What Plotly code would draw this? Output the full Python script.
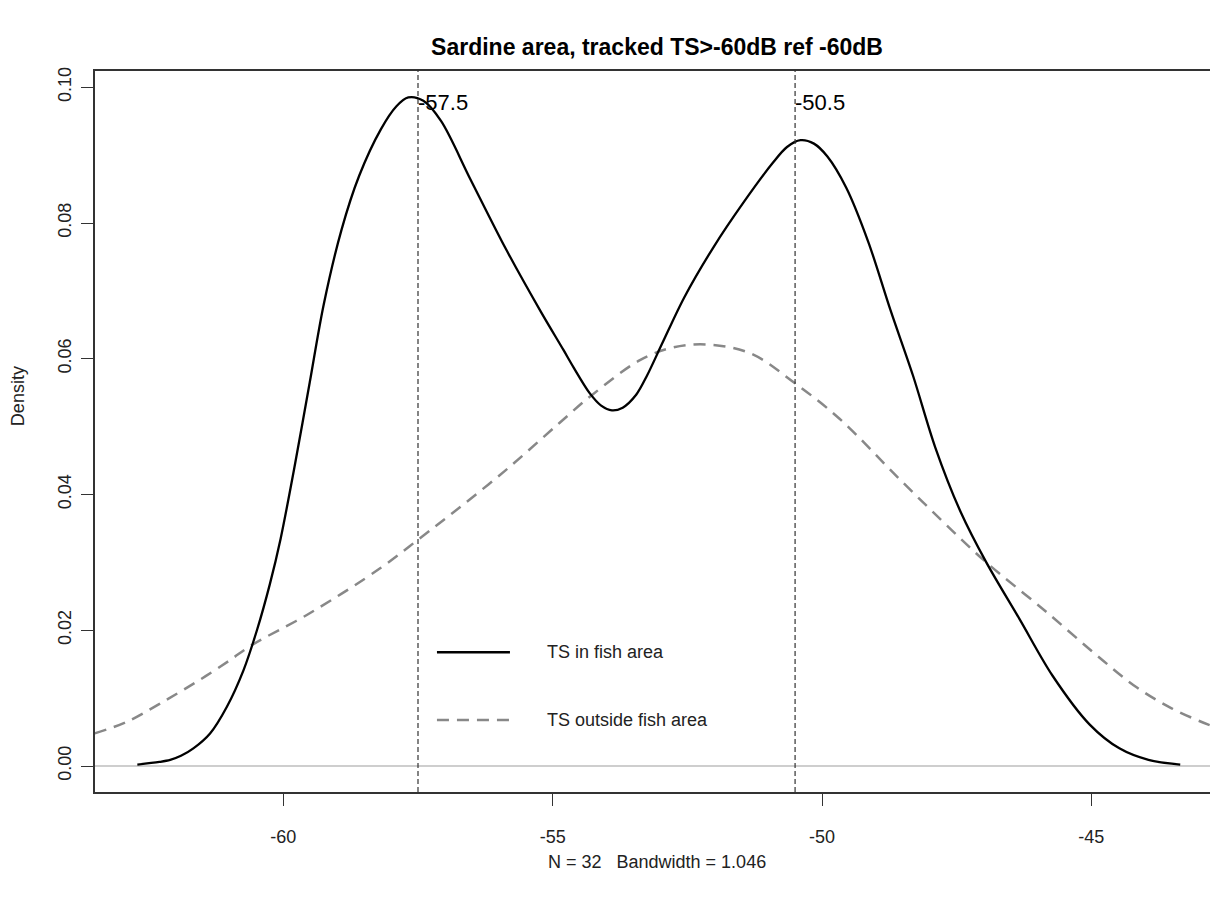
import plotly.graph_objects as go

# ---- data ----
fish_x = [-62.71, -62.30, -62.10, -61.90, -61.67, -61.36, -61.05, -60.74, -60.49, -60.25,
          -60.05, -59.78, -59.51, -59.25, -58.92, -58.59, -58.19, -57.90, -57.68, -57.40,
          -57.07, -56.53, -55.87, -55.21, -54.80, -54.61, -54.31, -54.10, -53.90, -53.70,
          -53.45, -53.25, -52.97, -52.56, -52.01, -51.46, -50.92, -50.65, -50.40, -50.15,
          -49.90, -49.55, -49.14, -48.73, -48.31, -47.90, -47.43, -46.95, -46.33, -45.72,
          -45.03, -44.48, -43.94, -43.35]
fish_y = [0.0002, 0.0006, 0.0009, 0.0015, 0.0026, 0.0048, 0.0087, 0.0141, 0.0200, 0.0268,
          0.0335, 0.0446, 0.0565, 0.0680, 0.0790, 0.0870, 0.0938, 0.0972, 0.0985, 0.0980,
          0.0950, 0.0865, 0.0762, 0.0668, 0.0613, 0.0587, 0.0549, 0.0531, 0.0524, 0.0528,
          0.0547, 0.0575, 0.0622, 0.0690, 0.0765, 0.0830, 0.0888, 0.0912, 0.0922, 0.0917,
          0.0898, 0.0852, 0.0772, 0.0672, 0.0575, 0.0470, 0.0375, 0.0300, 0.0216, 0.0133,
          0.0061, 0.0026, 0.0009, 0.0002]

out_x = [-63.50, -62.91, -62.29, -61.61, -60.99, -60.59, -59.51, -58.19, -57.49, -56.87,
         -55.87, -54.88, -54.28, -53.38, -52.80, -52.15, -51.33, -50.52, -49.68, -48.59,
         -47.56, -46.95, -45.85, -44.78, -44.16, -43.51, -42.80, -42.65]
out_y = [0.0048, 0.0065, 0.0092, 0.0124, 0.0156, 0.0178, 0.0225, 0.0292, 0.0334, 0.0372,
         0.0436, 0.0505, 0.0546, 0.0598, 0.0616, 0.0621, 0.0608, 0.0565, 0.0512, 0.0425,
         0.0345, 0.0300, 0.0228, 0.0155, 0.0116, 0.0085, 0.0060, 0.0056]

mode_x = [-57.5, -50.5]
mode_labels = ["-57.5", "-50.5"]
mode_label_y = 0.0978

x_ticks = [-60, -55, -50, -45]
x_ticklabels = ["-60", "-55", "-50", "-45"]
y_ticks = [0.00, 0.02, 0.04, 0.06, 0.08, 0.10]
y_ticklabels = ["0.00", "0.02", "0.04", "0.06", "0.08", "0.10"]

legend_labels = ["TS in fish area", "TS outside fish area"]
title_text = "Sardine area, tracked TS>-60dB ref -60dB"
x_title = "N = 32   Bandwidth = 1.046"
y_title = "Density"

FONT = "Arial, Liberation Sans, sans-serif"
AX = "#333333"

fig = go.Figure()
fig.add_trace(go.Scatter(x=out_x, y=out_y, mode="lines",
                         line=dict(color="#888888", width=2.5, dash="12px,8px", shape="spline", smoothing=1.0),
                         hoverinfo="skip", showlegend=False))
fig.add_trace(go.Scatter(x=fish_x, y=fish_y, mode="lines",
                         line=dict(color="black", width=2.3, shape="spline", smoothing=0.9),
                         hoverinfo="skip", showlegend=False))

shapes = []
# zero line
shapes.append(dict(type="line", xref="paper", x0=0, x1=1, yref="y", y0=0, y1=0,
                   line=dict(color="#bebebe", width=1.5), layer="below"))
# mode lines
for mx in mode_x:
    shapes.append(dict(type="line", xref="x", x0=mx, x1=mx, yref="paper", y0=0, y1=1,
                       line=dict(color="#333333", width=1.2, dash="5px,3px")))

# manual legend (paper coords)
leg_x0, leg_x1, leg_tx = 0.3045, 0.3695, 0.4007
leg_y = [0.194, 0.0999]
shapes.append(dict(type="line", xref="paper", yref="paper", x0=leg_x0, x1=leg_x1,
                   y0=leg_y[0], y1=leg_y[0], line=dict(color="black", width=2.5)))
shapes.append(dict(type="line", xref="paper", yref="paper", x0=leg_x0, x1=leg_x1,
                   y0=leg_y[1], y1=leg_y[1], line=dict(color="#888888", width=2.5, dash="12px,8px")))

annotations = []
for mx, lab in zip(mode_x, mode_labels):
    annotations.append(dict(x=mx, y=mode_label_y, xref="x", yref="y", text=lab,
                            showarrow=False, xanchor="left", yanchor="middle", xshift=-2,
                            font=dict(family=FONT, size=22, color="black")))
for ly, lab in zip(leg_y, legend_labels):
    annotations.append(dict(x=leg_tx, y=ly, xref="paper", yref="paper", text=lab,
                            showarrow=False, xanchor="left", yanchor="middle",
                            font=dict(family=FONT, size=18, color="#222222")))
annotations.append(dict(x=0.5004, y=-0.097, xref="paper", yref="paper", text=x_title,
                        showarrow=False, xanchor="center", yanchor="middle",
                        font=dict(family=FONT, size=18, color="#222222")))
annotations.append(dict(x=-0.0686, y=0.549, xref="paper", yref="paper", text=y_title,
                        showarrow=False, xanchor="center", yanchor="middle", textangle=-90,
                        font=dict(family=FONT, size=18, color="#222222")))

# page body has an 8px margin, so the figure is sized/offset to compensate
fig.update_layout(
    width=1210, height=895,
    margin=dict(l=87, r=0, t=63, b=111),
    paper_bgcolor="white", plot_bgcolor="white",
    title=dict(text="<b>" + title_text + "</b>", x=0.5364, xanchor="center",
               y=1 - 39 / 895, yanchor="middle",
               font=dict(family=FONT, size=23, color="black")),
    shapes=shapes, annotations=annotations, showlegend=False,
    xaxis=dict(range=[-63.496, -42.649], tickvals=x_ticks, ticktext=x_ticklabels,
               ticks="outside", ticklen=12, tickcolor=AX, tickwidth=1,
               showline=True, linecolor=AX, linewidth=1.5, mirror=True,
               showgrid=False, zeroline=False, ticklabelstandoff=16,
               tickfont=dict(family=FONT, size=18, color="#222222")),
    yaxis=dict(range=[-0.00383, 0.1024], tickvals=y_ticks, ticktext=y_ticklabels,
               ticks="outside", ticklen=12, tickcolor=AX, tickwidth=1, tickangle=-90,
               showline=True, linecolor=AX, linewidth=1.5, mirror=False,
               showgrid=False, zeroline=False, ticklabelstandoff=3,
               tickfont=dict(family=FONT, size=18, color="#222222")),
)

fig.write_html("out.html")
